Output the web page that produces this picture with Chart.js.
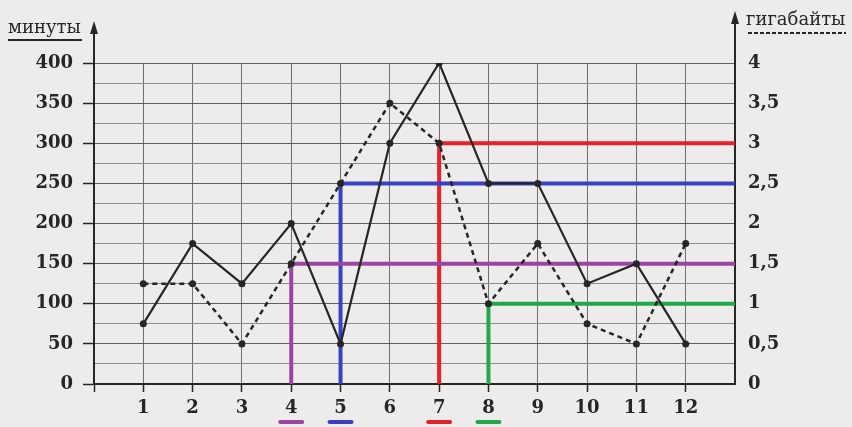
<!DOCTYPE html>
<html>
<head>
<meta charset="utf-8">
<script src="https://cdn.jsdelivr.net/npm/chart.js@4"></script>
<style>
  html, body { margin: 0; padding: 0; background: #edecea; }
  #wrap { width: 852px; height: 427px; position: relative; }
</style>
</head>
<body>
<div id="wrap"><canvas id="myChart"></canvas></div>
<script>
// months 1..12
const months = [1, 2, 3, 4, 5, 6, 7, 8, 9, 10, 11, 12];
// solid line, left axis
const minutes = [75, 175, 125, 200, 50, 300, 400, 250, 250, 125, 150, 50];
// dashed line, right axis
const gigabytes = [1.25, 1.25, 0.5, 1.5, 2.5, 3.5, 3, 1, 1.75, 0.75, 0.5, 1.75];
// hand-drawn marks
const markMonths = [4, 5, 7, 8];
const markMinutes = [150, 250, 300, 100];
const markColors = ['#9a45a3', '#3a40c4', '#e8202a', '#1fa84c'];

const ink = '#262626';
const serif = '"DejaVu Serif", "Liberation Serif", serif';

let datasets = [];
datasets.push({
    data: months.map((m, i) => ({x: m, y: minutes[i]})),
    yAxisID: 'y',
    borderColor: ink,
    backgroundColor: ink,
    borderWidth: 2.2,
    pointRadius: 3.5,
    pointBorderWidth: 0,
    order: 0
});
datasets.push({
    data: months.map((m, i) => ({x: m, y: gigabytes[i]})),
    yAxisID: 'y1',
    borderColor: ink,
    backgroundColor: ink,
    borderWidth: 2.5,
    borderDash: [5, 4],
    pointRadius: 3.5,
    pointBorderWidth: 0,
    order: 0
});
for (let i = 0; i < markMonths.length; i++) {
    datasets.push({
        data: [{x: markMonths[i], y: 0}, {x: markMonths[i], y: markMinutes[i]}, {x: 13, y: markMinutes[i]}],
        yAxisID: 'y',
        borderColor: markColors[i],
        borderWidth: 4,
        pointRadius: 0,
        clip: false,
        order: 1
    });
}

// axis arrows, axis names, underlines under the marked months
const extras = {
    id: 'extras',
    afterDraw(chart) {
        let ctx = chart.ctx;
        let area = chart.chartArea;
        let xs = chart.scales.x;
        ctx.save();
        ctx.strokeStyle = ink;
        ctx.fillStyle = ink;
        ctx.lineWidth = 2;
        // left axis up
        ctx.beginPath();
        ctx.moveTo(area.left, area.top);
        ctx.lineTo(area.left, 30);
        ctx.stroke();
        ctx.beginPath();
        ctx.moveTo(area.left, 21);
        ctx.lineTo(area.left - 4, 34);
        ctx.lineTo(area.left + 4, 34);
        ctx.closePath();
        ctx.fill();
        // right axis up
        ctx.beginPath();
        ctx.moveTo(area.right, area.top);
        ctx.lineTo(area.right, 20);
        ctx.stroke();
        ctx.beginPath();
        ctx.moveTo(area.right, 11);
        ctx.lineTo(area.right - 4, 24);
        ctx.lineTo(area.right + 4, 24);
        ctx.closePath();
        ctx.fill();

        ctx.font = '18px ' + serif;
        ctx.textBaseline = 'alphabetic';
        ctx.textAlign = 'left';
        ctx.fillText('минуты', 8, 33);
        ctx.beginPath();
        ctx.moveTo(8, 40);
        ctx.lineTo(82, 40);
        ctx.stroke();

        ctx.fillText('гигабайты', 746, 25);
        ctx.setLineDash([4, 2]);
        ctx.beginPath();
        ctx.moveTo(748, 33);
        ctx.lineTo(846, 33);
        ctx.stroke();
        ctx.setLineDash([]);

        ctx.lineWidth = 4;
        ctx.lineCap = 'round';
        for (let i = 0; i < markMonths.length; i++) {
            let px = xs.getPixelForValue(markMonths[i]);
            ctx.strokeStyle = markColors[i];
            ctx.beginPath();
            ctx.moveTo(px - 11, 422);
            ctx.lineTo(px + 11, 422);
            ctx.stroke();
        }
        ctx.restore();
    }
};

new Chart(document.getElementById('myChart'), {
    type: 'line',
    data: {datasets: datasets},
    plugins: [extras],
    options: {
        responsive: true,
        maintainAspectRatio: false,
        animation: false,
        layout: {padding: {top: 63, left: 0, right: 0, bottom: 0}},
        plugins: {legend: {display: false}, tooltip: {enabled: false}},
        scales: {
            x: {
                type: 'linear',
                min: 0,
                max: 13,
                afterFit: s => { s.height = 43; },
                ticks: {
                    stepSize: 1,
                    autoSkip: false,
                    maxRotation: 0,
                    padding: 6,
                    color: ink,
                    font: {family: serif, size: 18, weight: 'bold'},
                    callback: v => (v >= 1 && v <= 12) ? v : ''
                },
                grid: {
                    color: c => (c.tick && c.tick.value >= 1 && c.tick.value <= 12) ? '#6e6e6e' : 'rgba(0,0,0,0)',
                    lineWidth: 1,
                    tickLength: 8,
                    tickColor: c => (c.tick && c.tick.value <= 12) ? ink : 'rgba(0,0,0,0)',
                    tickWidth: 1.5
                },
                border: {color: ink, width: 2}
            },
            y: {
                position: 'left',
                min: 0,
                max: 400,
                afterFit: s => { s.width = 94; },
                ticks: {
                    stepSize: 25,
                    autoSkip: false,
                    padding: 10,
                    color: ink,
                    font: {family: serif, size: 18, weight: 'bold'},
                    callback: v => v % 50 === 0 ? v : ''
                },
                grid: {
                    color: c => (c.tick && c.tick.value % 50 === 0) ? '#5e5e5e' : '#8c8c8c',
                    lineWidth: 1,
                    tickLength: 11,
                    tickColor: c => (c.tick && c.tick.value % 50 === 0) ? ink : 'rgba(0,0,0,0)',
                    tickWidth: 1.5
                },
                border: {color: ink, width: 2}
            },
            y1: {
                position: 'right',
                min: 0,
                max: 4,
                afterFit: s => { s.width = 117; },
                ticks: {
                    stepSize: 0.5,
                    padding: 13,
                    color: ink,
                    font: {family: serif, size: 18, weight: 'bold'},
                    callback: v => String(v).replace('.', ',')
                },
                grid: {drawOnChartArea: false, drawTicks: false},
                border: {color: ink, width: 2}
            }
        }
    }
});
</script>
</body>
</html>
